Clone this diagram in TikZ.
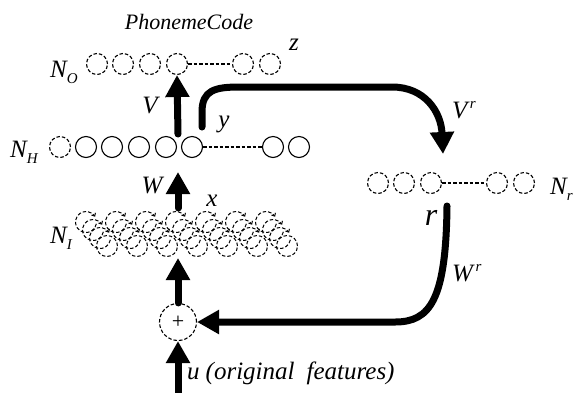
\documentclass[tikz,border=0pt]{standalone}
\usepackage{fontspec}
\setmainfont{Liberation Serif}
\usetikzlibrary{arrows.meta}
\newcommand{\lsub}[2]{#1\raisebox{-6pt}{\fontsize{15}{15}\selectfont #2}}
\newcommand{\lsup}[2]{#1\raisebox{10pt}{\fontsize{15}{15}\selectfont\,#2}}
\begin{document}
\begin{tikzpicture}[x=1pt,y=-1pt,
  lbl/.style={font=\fontsize{25}{26}\selectfont\itshape, inner sep=0pt},
  unit/.style={circle, draw, minimum size=21pt, inner sep=0pt, line width=1.1pt},
  dunit/.style={unit, dash pattern=on 3.5pt off 2pt},
  conn/.style={dash pattern=on 3.5pt off 2pt, line width=1.1pt},
  inarc/.style={dash pattern=on 3.5pt off 2pt, line width=1pt, -{Straight Barb[length=2.5pt,width=4.5pt]}},
  big/.style={line width=7pt, line cap=round, -{Triangle[length=22pt,width=23pt]}},
]
\useasboundingbox (0,0) rectangle (577,392);

% title
\node[lbl, font=\fontsize{22}{24}\selectfont\itshape] (title) at (189,22) {PhonemeCode};

% output layer
\foreach \n/\x in {o1/97,o2/123,o3/150,o4/177,o5/243,o6/270}
  \node[dunit] (\n) at (\x,64) {};
\draw[conn] (o4) -- (o5);
\node[lbl, anchor=base west] (NO) at (50,77) {\lsub{N}{O}};
\node[lbl, anchor=base] (z) at (294,50) {z};

% hidden layer
\node[dunit] (hd) at (60,147) {};
\foreach \n/\x in {h1/86,h2/112,h3/139,h4/166,h5/192,h6/273,h7/299}
  \node[unit] (\n) at (\x,147) {};
\draw[conn] (h5) -- (h6);
\node[lbl, anchor=base west] (NH) at (10,157) {\lsub{N}{H}};

% input layer (stacked dashed units)
\foreach \k in {0,...,6}{
  \pgfmathsetmacro{\bx}{107+30*\k}
  \foreach \i in {0,1,2}{
    \pgfmathsetmacro{\cx}{\bx-21+7*\i}
    \pgfmathsetmacro{\cy}{222+8*\i}
    \draw[inarc] (\cx,\cy) ++(-350:10.5) arc[start angle=-350, end angle=-30, radius=10.5];
  }
  \node[dunit, line width=1pt] (i\k) at (\bx,246) {};
}
\node[lbl, anchor=base west] (NI) at (50,243) {\lsub{N}{I}};

% recurrent layer
\foreach \n/\x in {r1/378,r2/404,r3/431,r4/497,r5/524}
  \node[dunit] (\n) at (\x,183) {};
\draw[conn] (r3) -- (r4);
\node[lbl, anchor=base west] (NR) at (550,194) {\lsub{N}{r}};

% adder
\node[circle, draw, dash pattern=on 3.5pt off 2pt, line width=1.1pt, minimum size=37pt, inner sep=0pt] (plus) at (178,322) {\fontsize{22}{22}\selectfont +};

% vertical arrows
\coordinate (vs) at (178,134);
\draw[big] (vs) -- (o4.south);
\node[lbl] (V) at (150,105) {V};
\coordinate (ws) at (178,208);
\coordinate (we) at (178,172);
\draw[big] (ws) -- (we);
\node[lbl] (W) at (152,185) {W};
\node[lbl] (x) at (212,201) {x};
\node[lbl] (y) at (224,124) {y};
\coordinate (pe) at (178,258);
\draw[big] (plus.north) -- (pe);
\coordinate (uin) at (178,398);
\draw[big] (uin) -- (plus.south);
\node[lbl, anchor=base west] (u) at (187,379) {u\hspace{6pt}(original\hspace{12pt}features)};

% recurrent arrows
\coordinate (ys) at (202,127);
\coordinate (rt) at (443,154);
\draw[big] (ys) -- (202,112) .. controls (202,90) and (215,87) .. (240,87) -- (392,87) .. controls (425,87) and (441,112) .. (rt);
\node[lbl, anchor=base west] (Vr) at (452,118) {\lsup{V}{r}};

\coordinate (rs) at (447,206);
\draw[big] (rs) .. controls (446,300) and (430,322) .. (395,322) -- (plus.east);
\node[lbl, anchor=base west] (Wr) at (452,281) {\lsup{W}{r}};
\node[lbl, font=\fontsize{32}{32}\selectfont\itshape] (r) at (431,218) {r};
\end{tikzpicture}
\end{document}
